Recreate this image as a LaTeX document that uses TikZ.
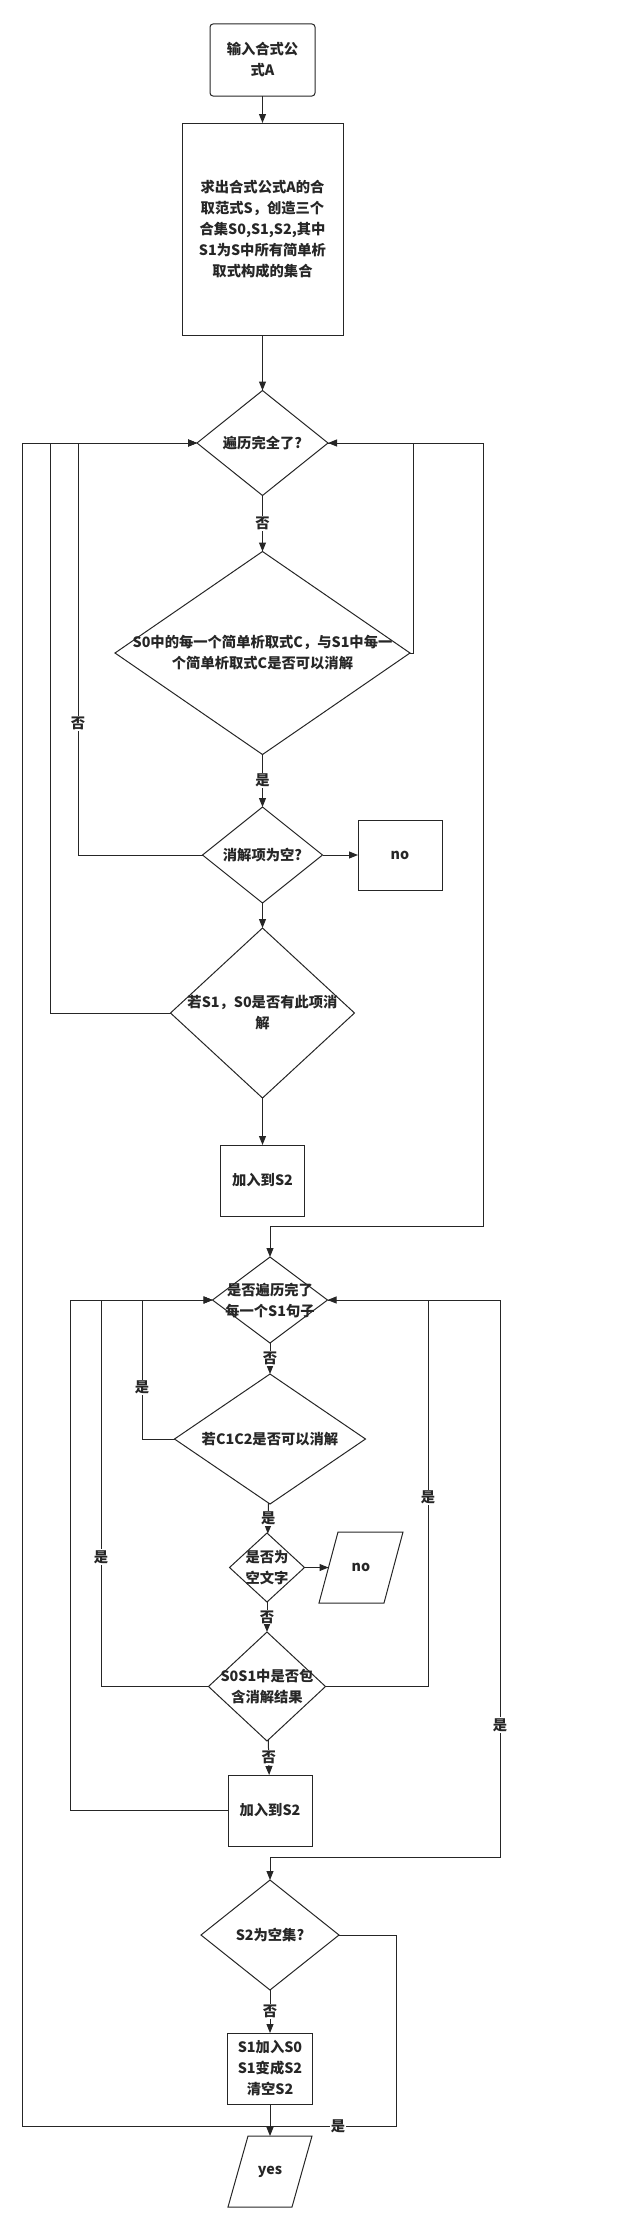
\documentclass[tikz,border=0pt]{standalone}
\usepackage{fontspec}
\setmainfont{Noto Sans CJK SC}
\usetikzlibrary{shapes.geometric,arrows.meta}

\begin{document}
\begin{tikzpicture}[x=1pt,y=-1pt,line width=1pt,color=black!85,
  every node/.style={font=\bfseries\fontsize{14.3}{21}\selectfont},
  proc/.style={draw,rectangle,inner sep=0pt,outer sep=0pt,align=center},
  decide/.style={draw,diamond,inner sep=0pt,outer sep=0pt},
  io/.style={rectangle,inner sep=0pt,outer sep=0pt,minimum width=65pt,minimum height=71pt},
  txt/.style={align=center,inner sep=0pt},
  lab/.style={fill=white,inner sep=1pt},
  arr/.style={-{Triangle[length=9pt,width=7pt]}}]
\useasboundingbox (0,0) rectangle (626,2232);

% upper part
\node[proc,rounded corners=3pt,minimum width=105pt,minimum height=72pt] (start) at (262.5,60) {输入合式公\\式A};
\node[proc,minimum width=161pt,minimum height=212pt] (init) at (262.5,229)
  {求出合式公式A的合\\取范式S，创造三个\\合集S0,S1,S2,其中\\S1为S中所有简单析\\取式构成的集合};

\node[decide,minimum width=131pt,minimum height=105pt] (loopa) at (262.5,443) {};
\node[txt] (loopat) at (loopa) {遍历完全了?};

\node[decide,minimum width=295pt,minimum height=203pt] (resolve) at (262.5,653) {};
\node[txt] (resolvet) at (resolve) {S0中的每一个简单析取式C，与S1中每一\\个简单析取式C是否可以消解};

\node[decide,minimum width=120pt,minimum height=96pt] (empty) at (262.5,855) {};
\node[txt] (emptyt) at (empty) {消解项为空?};
\node[proc,minimum width=84pt,minimum height=70pt] (noa) at (400,855) {no};

\node[decide,minimum width=184pt,minimum height=170pt] (has) at (262.5,1013) {};
\node[txt] (hast) at (has) {若S1，S0是否有此项消\\解};
\node[proc,minimum width=84pt,minimum height=71pt] (adda) at (262.5,1180.5) {加入到S2};

% lower part
\node[decide,minimum width=115pt,minimum height=86pt] (loopb) at (270,1300) {};
\node[txt] (loopbt) at (loopb) {是否遍历完了\\每一个S1句子};

\node[decide,minimum width=191pt,minimum height=130pt] (cc) at (270,1439) {};
\node[txt] (cct) at (cc) {若C1C2是否可以消解};

\node[decide,minimum width=75pt,minimum height=69pt] (lit) at (267,1567.5) {};
\node[txt] (litt) at (lit) {是否为\\空文字};
\node[io] (nob) at (361,1567.5) {no};
\draw ([xshift=9.5pt]nob.north west) -- ([xshift=9.5pt]nob.north east)
  -- ([xshift=-9.5pt]nob.south east) -- ([xshift=-9.5pt]nob.south west) -- cycle;

\node[decide,minimum width=117pt,minimum height=109pt] (contain) at (267,1686.5) {};
\node[txt] (containt) at (contain) {S0S1中是否包\\含消解结果};
\node[proc,minimum width=84pt,minimum height=71pt] (addb) at (270,1810.5) {加入到S2};

\node[decide,minimum width=138pt,minimum height=110pt] (none) at (270,1935) {};
\node[txt] (nonet) at (none) {S2为空集?};
\node[proc,minimum width=85pt,minimum height=71pt] (swap) at (270,2068.5) {S1加入S0\\S1变成S2\\清空S2};
\node[io,minimum width=64pt] (yes) at (270,2171.5) {yes};
\draw ([xshift=10pt]yes.north west) -- ([xshift=10pt]yes.north east)
  -- ([xshift=-10pt]yes.south east) -- ([xshift=-10pt]yes.south west) -- cycle;

% connectors
\draw[arr] (start) -- (init);
\draw[arr] (init) -- (loopa);
\draw[arr] (loopa) -- node[lab] (la) {否} (resolve);
\draw[arr] (resolve) -- node[lab] (lb) {是} (empty);
\draw[arr] (resolve.east) -- (413,653) |- (loopa.east);
\draw[arr] (empty.west) -- (78,855) -- node[lab,pos=0.32] (lc) {否} (78,443) -- (loopa.west);
\draw[arr] (empty) -- (noa);
\draw[arr] (empty) -- (has);
\draw[arr] (has.west) -- (50,1013) -- (50,443) -- (loopa.west);
\draw[arr] (has) -- (adda);
\draw[arr] (loopa.east) -- (483,443) -- (483,1226) -| (loopb.north);

\draw[arr] (loopb) -- node[lab] (ld) {否} (cc);
\draw[arr] (cc.west) -- (142,1439) -- node[lab,pos=0.37] (le) {是} (142,1300) -- (loopb.west);
\draw[arr] (cc) -- node[lab] (lf) {是} (lit);
\draw[arr] (lit) -- (nob);
\draw[arr] (lit) -- node[lab] (lg) {否} (contain);
\draw[arr] (contain.west) -- (101,1686.5) -- node[lab,pos=0.335] (lh) {是} (101,1300) -- (loopb.west);
\draw[arr] (contain.east) -- (428,1686.5) -- node[lab,pos=0.49] (li) {是} (428,1300) -- (loopb.east);
\draw[arr] (contain) -- node[lab] (lj) {否} (addb);
\draw[arr] (addb.west) -- (70,1810.5) -- (70,1300) -- (loopb.west);
\draw[arr] (loopb.east) -- (500,1300) -- node[lab,pos=0.763] (lk) {是} (500,1857) -| (none.north);
\draw[arr] (none) -- node[lab] (ll) {否} (swap);
\draw[arr] (swap) -- (yes);
\draw[arr] (none.east) -- (396,1935) -- (396,2126) -- node[lab,pos=0.155] (lm) {是} (22,2126) -- (22,443) -- (loopa.west);
\end{tikzpicture}
\end{document}
